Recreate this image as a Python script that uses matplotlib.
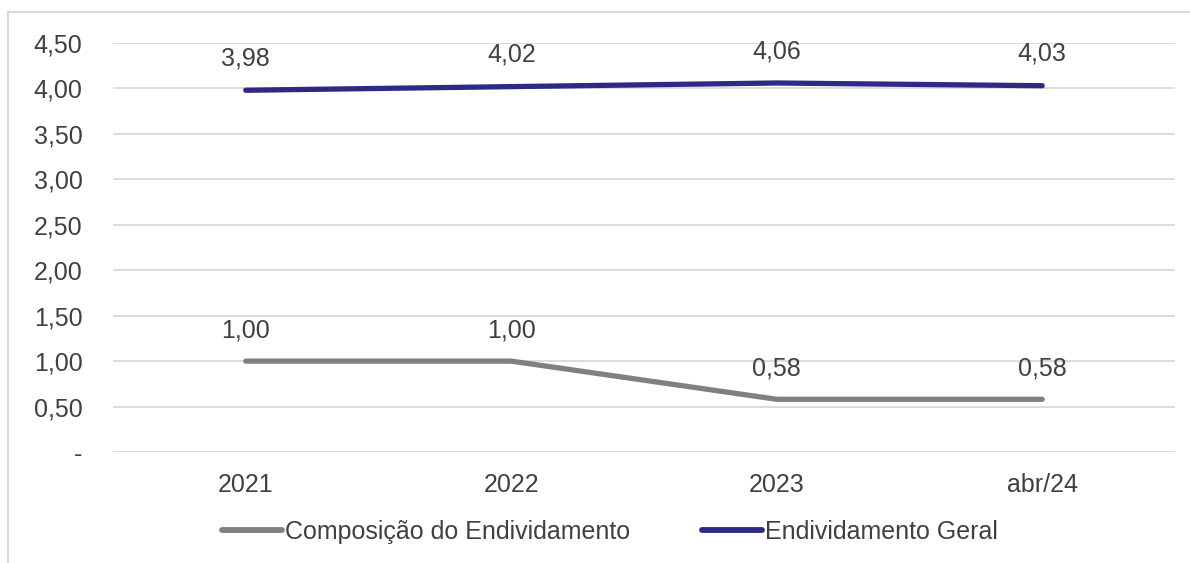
import matplotlib
matplotlib.use("Agg")
import matplotlib.pyplot as plt
from matplotlib.lines import Line2D

categories = ["2021", "2022", "2023", "abr/24"]
composicao = [1.00, 1.00, 0.58, 0.58]
geral = [3.98, 4.02, 4.06, 4.03]
yticks = [0, 0.5, 1.0, 1.5, 2.0, 2.5, 3.0, 3.5, 4.0, 4.5]
ytick_labels = ["-", "0,50", "1,00", "1,50", "2,00", "2,50", "3,00", "3,50", "4,00", "4,50"]

plt.rcParams['font.family'] = ['Liberation Sans', 'DejaVu Sans']
txt = '#404040'
grid = '#d9d9d9'
c_comp = '#808080'
c_geral = '#2e2a84'
fs = 18

fig = plt.figure(figsize=(11.9, 5.63), dpi=100)
ax = fig.add_axes([113/1190, 1 - 452/563, (1175 - 113)/1190, (452 - 43)/563])

x = list(range(len(categories)))
ax.plot(x, composicao, color=c_comp, lw=3.8, solid_capstyle='round', zorder=3)
ax.plot(x, geral, color=c_geral, lw=3.8, solid_capstyle='round', zorder=3)

for xi, v in zip(x, composicao):
    ax.annotate(f"{v:.2f}".replace('.', ','), (xi, v), xytext=(0, 22), textcoords='offset points',
                ha='center', va='center', fontsize=fs, color=txt)
for xi, v in zip(x, geral):
    ax.annotate(f"{v:.2f}".replace('.', ','), (xi, v), xytext=(0, 23), textcoords='offset points',
                ha='center', va='center', fontsize=fs, color=txt)

ax.set_xlim(-0.5, len(categories) - 0.5)
ax.set_ylim(0, 4.5)
ax.set_yticks(yticks)
ax.set_yticklabels(ytick_labels)
ax.set_xticks(x)
ax.set_xticklabels(categories)
ax.tick_params(axis='both', length=0, labelsize=fs, colors=txt)
ax.tick_params(axis='y', pad=22)
ax.tick_params(axis='x', pad=15)
for lab in ax.get_yticklabels():
    lab.set_horizontalalignment('right')
ax.grid(axis='y', color=grid, lw=1.3)
ax.set_axisbelow(True)
for s in ax.spines.values():
    s.set_visible(False)

handles = [Line2D([], [], color=c_comp, lw=4.2, solid_capstyle='round'),
           Line2D([], [], color=c_geral, lw=4.2, solid_capstyle='round')]
fig.legend(handles, ["Composição do Endividamento", "Endividamento Geral"],
           loc='center', bbox_to_anchor=(610/1190, 1 - 532/563), ncol=2, frameon=False,
           fontsize=fs, labelcolor=txt, handlelength=2.4, handletextpad=0.1, columnspacing=2.9)

# outer frame lines (top and left)
fig.add_artist(Line2D([8/1190, 1], [1 - 12/563, 1 - 12/563], color=grid, lw=1.5, transform=fig.transFigure))
fig.add_artist(Line2D([8/1190, 8/1190], [0, 1 - 12/563], color=grid, lw=1.5, transform=fig.transFigure))

fig.savefig("out.png", dpi=100)
